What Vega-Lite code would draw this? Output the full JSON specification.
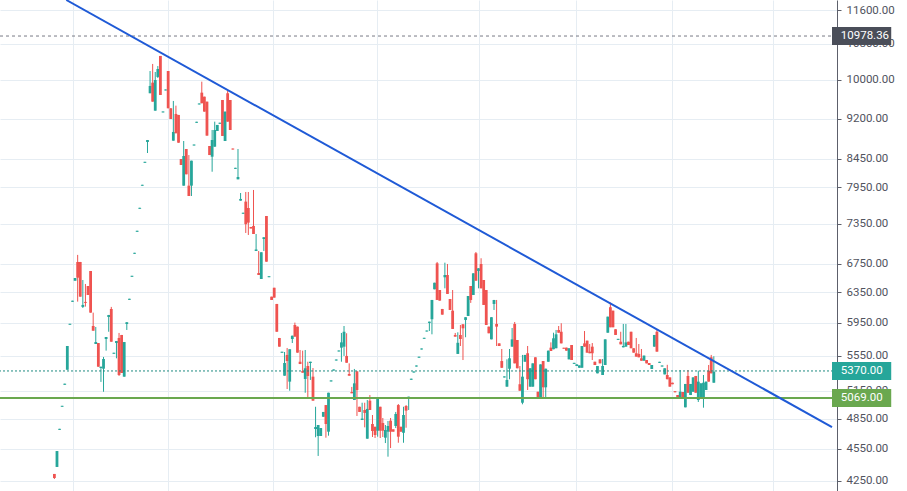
{
"$schema": "https://vega.github.io/schema/vega-lite/v6.json",
"width": 837, "height": 491,
"autosize": {"type": "none"},
"padding": {"left": 0, "top": 0, "right": 70, "bottom": 0},
"background": "white",
"config": {"view": {"stroke": null}},
"datasets": {"candles": [
{"i":0,"o":4310,"c":4273,"h":4310,"l":4264},{"i":1,"o":4375,"c":4526,"h":4526,"l":4375},{"i":2,"o":4736,"c":4746,"h":4746,"l":4736},{"i":3,"o":4975,"c":4985,"h":4985,"l":4975},{"i":4,"o":5214,"c":5226,"h":5226,"l":5214},{"i":5,"o":5384,"c":5664,"h":5664,"l":5384},{"i":6,"o":5927,"c":5939,"h":5939,"l":5927},{"i":7,"o":6225,"c":6239,"h":6239,"l":6225},{"i":8,"o":6511,"c":6549,"h":6549,"l":6511},{"i":9,"o":6777,"c":6553,"h":6880,"l":6227},
{"i":10,"o":6777,"c":6293,"h":6777,"l":6293},{"i":11,"o":6157,"c":6183,"h":6521,"l":6143},{"i":12,"o":6223,"c":6210,"h":6466,"l":6161},{"i":13,"o":6438,"c":6316,"h":6438,"l":6316},{"i":14,"o":6648,"c":6082,"h":6648,"l":6082},{"i":15,"o":5911,"c":5852,"h":6082,"l":5852},{"i":16,"o":5688,"c":5712,"h":5899,"l":5688},{"i":17,"o":5700,"c":5419,"h":5700,"l":5419},{"i":18,"o":5404,"c":5419,"h":5419,"l":5246},{"i":19,"o":5396,"c":5509,"h":5533,"l":5137},
{"i":20,"o":5749,"c":5774,"h":5774,"l":5608},{"i":21,"o":6026,"c":6052,"h":6052,"l":5839},{"i":22,"o":6130,"c":5716,"h":6157,"l":5716},{"i":23,"o":5571,"c":5583,"h":5583,"l":5571},{"i":24,"o":5700,"c":5725,"h":5725,"l":5517},{"i":25,"o":5762,"c":5324,"h":5824,"l":5313},{"i":26,"o":5799,"c":5347,"h":5799,"l":5347},{"i":27,"o":5305,"c":5712,"h":5712,"l":5305},{"i":28,"o":5937,"c":5959,"h":5959,"l":5861},{"i":29,"o":6251,"c":6265,"h":6265,"l":6251},
{"i":30,"o":6566,"c":6580,"h":6580,"l":6566},{"i":31,"o":6897,"c":6911,"h":6911,"l":6897},{"i":32,"o":7228,"c":7244,"h":7244,"l":7228},{"i":33,"o":7592,"c":7608,"h":7608,"l":7592},{"i":34,"o":7975,"c":7991,"h":7991,"l":7975},{"i":35,"o":8375,"c":8393,"h":8393,"l":8375},{"i":36,"o":8755,"c":8793,"h":8793,"l":8552},{"i":37,"o":9716,"c":9868,"h":10188,"l":9716},{"i":38,"o":9938,"c":9543,"h":10343,"l":9543},{"i":39,"o":9361,"c":9995,"h":10167,"l":9361},
{"i":40,"o":10060,"c":10232,"h":10297,"l":10038},{"i":41,"o":10521,"c":9680,"h":10521,"l":9680},{"i":42,"o":9326,"c":9345,"h":9345,"l":9326},{"i":43,"o":9774,"c":9794,"h":9794,"l":9774},{"i":44,"o":10188,"c":9409,"h":10188,"l":9409},{"i":45,"o":9409,"c":9196,"h":9409,"l":9196},{"i":46,"o":8780,"c":8945,"h":9557,"l":8780},{"i":47,"o":9296,"c":8920,"h":9462,"l":8920},{"i":48,"o":9276,"c":8742,"h":9276,"l":8742},{"i":49,"o":8443,"c":8336,"h":8443,"l":8336},
{"i":50,"o":7976,"c":8497,"h":8774,"l":7976},{"i":51,"o":8625,"c":8172,"h":8625,"l":8172},{"i":52,"o":7976,"c":7802,"h":8515,"l":7802},{"i":53,"o":7976,"c":8413,"h":8413,"l":7802},{"i":54,"o":8690,"c":8708,"h":8708,"l":8690},{"i":55,"o":9122,"c":9142,"h":9142,"l":9122},{"i":56,"o":9486,"c":9506,"h":9506,"l":9486},{"i":57,"o":9728,"c":9510,"h":9959,"l":9510},{"i":58,"o":9645,"c":9342,"h":9645,"l":9342},{"i":59,"o":9543,"c":8875,"h":9543,"l":8875},
{"i":60,"o":8681,"c":8515,"h":8681,"l":8515},{"i":61,"o":8485,"c":8793,"h":8983,"l":8217},{"i":62,"o":8668,"c":8983,"h":9144,"l":8668},{"i":63,"o":8964,"c":9080,"h":9080,"l":8964},{"i":64,"o":9103,"c":9123,"h":9123,"l":9103},{"i":65,"o":9577,"c":8869,"h":9577,"l":8869},{"i":66,"o":8774,"c":9342,"h":9342,"l":8774},{"i":67,"o":9716,"c":9144,"h":9763,"l":9144},{"i":68,"o":9577,"c":8983,"h":9577,"l":8983},{"i":69,"o":8634,"c":8616,"h":8634,"l":8616},
{"i":70,"o":8268,"c":8286,"h":8286,"l":8268},{"i":71,"o":8085,"c":8125,"h":8625,"l":8085},{"i":72,"o":7725,"c":7753,"h":7852,"l":7725},{"i":73,"o":7512,"c":7528,"h":7528,"l":7512},{"i":74,"o":7709,"c":7346,"h":7869,"l":7210},{"i":75,"o":7605,"c":7371,"h":7869,"l":7179},{"i":76,"o":7303,"c":7279,"h":7303,"l":7279},{"i":77,"o":7319,"c":7194,"h":7903,"l":7194},{"i":78,"o":6938,"c":6960,"h":7194,"l":6938},{"i":79,"o":6619,"c":6591,"h":6938,"l":6591},
{"i":80,"o":6535,"c":6919,"h":6919,"l":6535},{"i":81,"o":7118,"c":7144,"h":7144,"l":6938},{"i":82,"o":7476,"c":6781,"h":7476,"l":6781},{"i":83,"o":6560,"c":6574,"h":6574,"l":6560},{"i":84,"o":6293,"c":6249,"h":6293,"l":6249},{"i":85,"o":6414,"c":6280,"h":6414,"l":6280},{"i":86,"o":6196,"c":5839,"h":6196,"l":5839},{"i":87,"o":5762,"c":5656,"h":5762,"l":5656},{"i":88,"o":5583,"c":5595,"h":5595,"l":5583},{"i":89,"o":5316,"c":5462,"h":5592,"l":5316},
{"i":90,"o":5557,"c":5485,"h":5640,"l":5167},{"i":91,"o":5249,"c":5625,"h":5625,"l":5148},{"i":92,"o":5749,"c":5790,"h":5790,"l":5700},{"i":93,"o":5924,"c":5778,"h":5954,"l":5778},{"i":94,"o":5903,"c":5584,"h":5903,"l":5584},{"i":95,"o":5477,"c":5450,"h":5616,"l":5450},{"i":96,"o":5369,"c":5350,"h":5608,"l":5350},{"i":97,"o":5279,"c":5401,"h":5616,"l":5126},{"i":98,"o":5427,"c":5313,"h":5477,"l":5069},{"i":99,"o":5462,"c":5477,"h":5477,"l":5268},
{"i":100,"o":5305,"c":5040,"h":5404,"l":5040},{"i":101,"o":4744,"c":4764,"h":4975,"l":4661},{"i":102,"o":4674,"c":4785,"h":4785,"l":4479},{"i":103,"o":4674,"c":4754,"h":4754,"l":4674},{"i":104,"o":4870,"c":4920,"h":4920,"l":4870},{"i":105,"o":4993,"c":4795,"h":4993,"l":4657},{"i":106,"o":4717,"c":5126,"h":5126,"l":4677},{"i":107,"o":5251,"c":5263,"h":5263,"l":5251},{"i":108,"o":5375,"c":5387,"h":5387,"l":5375},{"i":109,"o":5491,"c":5503,"h":5503,"l":5491},
{"i":110,"o":5598,"c":5610,"h":5610,"l":5598},{"i":111,"o":5644,"c":5708,"h":5824,"l":5477},{"i":112,"o":5656,"c":5839,"h":5911,"l":5545},{"i":113,"o":5545,"c":5465,"h":5820,"l":5465},{"i":114,"o":5335,"c":5316,"h":5458,"l":5316},{"i":115,"o":5134,"c":5120,"h":5190,"l":5120},{"i":116,"o":5047,"c":5230,"h":5393,"l":5047},{"i":117,"o":5366,"c":5156,"h":5366,"l":4878},{"i":118,"o":4975,"c":4920,"h":4975,"l":4920},{"i":119,"o":4836,"c":4851,"h":5018,"l":4836},
{"i":120,"o":4941,"c":4910,"h":5018,"l":4761},{"i":121,"o":4647,"c":4952,"h":5047,"l":4647},{"i":122,"o":5040,"c":4941,"h":5101,"l":4941},{"i":123,"o":4795,"c":4724,"h":4888,"l":4664},{"i":124,"o":4767,"c":4684,"h":4767,"l":4654},{"i":125,"o":4727,"c":5061,"h":5061,"l":4667},{"i":126,"o":4975,"c":4727,"h":4975,"l":4654},{"i":127,"o":4805,"c":4727,"h":4857,"l":4664},{"i":128,"o":4657,"c":4734,"h":4785,"l":4604},{"i":129,"o":4717,"c":4775,"h":4826,"l":4472},
{"i":130,"o":4829,"c":4717,"h":4857,"l":4555},{"i":131,"o":4741,"c":4717,"h":4741,"l":4717},{"i":132,"o":4775,"c":4899,"h":4920,"l":4754},{"i":133,"o":4993,"c":4667,"h":5004,"l":4607},{"i":134,"o":4767,"c":4717,"h":4767,"l":4717},{"i":135,"o":4706,"c":4888,"h":4975,"l":4607},{"i":136,"o":4983,"c":4934,"h":4993,"l":4757},{"i":137,"o":5069,"c":5083,"h":5083,"l":4941},{"i":138,"o":5270,"c":5282,"h":5282,"l":5270},{"i":139,"o":5352,"c":5364,"h":5364,"l":5352},
{"i":140,"o":5421,"c":5433,"h":5433,"l":5421},{"i":141,"o":5524,"c":5536,"h":5536,"l":5524},{"i":142,"o":5622,"c":5634,"h":5634,"l":5622},{"i":143,"o":5752,"c":5764,"h":5764,"l":5752},{"i":144,"o":5842,"c":5854,"h":5854,"l":5842},{"i":145,"o":5950,"c":5966,"h":5966,"l":5848},{"i":146,"o":5997,"c":6249,"h":6249,"l":5807},{"i":147,"o":6393,"c":6483,"h":6483,"l":6393},{"i":148,"o":6758,"c":6249,"h":6777,"l":6249},{"i":149,"o":6383,"c":6240,"h":6383,"l":6240},
{"i":150,"o":6130,"c":6056,"h":6130,"l":6056},{"i":151,"o":6559,"c":6591,"h":6767,"l":6406},{"i":152,"o":6591,"c":6330,"h":6748,"l":6330},{"i":153,"o":6262,"c":6117,"h":6262,"l":6117},{"i":154,"o":6108,"c":5874,"h":6383,"l":5874},{"i":155,"o":5799,"c":5778,"h":5824,"l":5778},{"i":156,"o":5569,"c":5703,"h":5832,"l":5569},{"i":157,"o":5799,"c":5749,"h":5924,"l":5664},{"i":158,"o":5933,"c":5882,"h":5933,"l":5497},{"i":159,"o":5988,"c":6023,"h":6023,"l":5771},
{"i":160,"o":6039,"c":6302,"h":6302,"l":6039},{"i":161,"o":6438,"c":6249,"h":6438,"l":6210},{"i":162,"o":6316,"c":6615,"h":6615,"l":6316},{"i":163,"o":6904,"c":6511,"h":6923,"l":6511},{"i":164,"o":6648,"c":6686,"h":6686,"l":6406},{"i":165,"o":6748,"c":6406,"h":6831,"l":6406},{"i":166,"o":6521,"c":6183,"h":6521,"l":6183},{"i":167,"o":6383,"c":5924,"h":6383,"l":5924},{"i":168,"o":5903,"c":5820,"h":5903,"l":5820},{"i":169,"o":5745,"c":6023,"h":6023,"l":5745},
{"i":170,"o":6196,"c":6249,"h":6249,"l":6117},{"i":171,"o":5937,"c":5903,"h":6249,"l":5664},{"i":172,"o":5696,"c":5664,"h":5696,"l":5664},{"i":173,"o":5485,"c":5407,"h":5628,"l":5404},{"i":174,"o":5296,"c":5308,"h":5308,"l":5296},{"i":175,"o":5193,"c":5268,"h":5505,"l":5193},{"i":176,"o":5396,"c":5517,"h":5628,"l":5276},{"i":177,"o":5656,"c":5745,"h":5886,"l":5656},{"i":178,"o":5937,"c":5458,"h":5962,"l":5458},{"i":179,"o":5737,"c":5401,"h":5737,"l":5401},
{"i":180,"o":5220,"c":5148,"h":5427,"l":5148},{"i":181,"o":5018,"c":5305,"h":5557,"l":5001},{"i":182,"o":5477,"c":5557,"h":5557,"l":5477},{"i":183,"o":5577,"c":5276,"h":5664,"l":5156},{"i":184,"o":5193,"c":5401,"h":5401,"l":5193},{"i":185,"o":5193,"c":5458,"h":5458,"l":5193},{"i":186,"o":5529,"c":5276,"h":5529,"l":5276},{"i":187,"o":5137,"c":5077,"h":5137,"l":5077},{"i":188,"o":5072,"c":5446,"h":5446,"l":5069},{"i":189,"o":5485,"c":5186,"h":5485,"l":5066},
{"i":190,"o":5186,"c":5396,"h":5396,"l":5069},{"i":191,"o":5477,"c":5608,"h":5608,"l":5477},{"i":192,"o":5644,"c":5604,"h":5708,"l":5604},{"i":193,"o":5625,"c":5758,"h":5827,"l":5625},{"i":194,"o":5637,"c":5807,"h":5861,"l":5637},{"i":195,"o":5861,"c":5827,"h":5911,"l":5827},{"i":196,"o":5839,"c":5696,"h":5946,"l":5696},{"i":197,"o":5643,"c":5631,"h":5643,"l":5631},{"i":198,"o":5644,"c":5608,"h":5644,"l":5608},{"i":199,"o":5505,"c":5637,"h":5637,"l":5505},
{"i":200,"o":5676,"c":5497,"h":5676,"l":5497},{"i":201,"o":5452,"c":5464,"h":5464,"l":5452},{"i":202,"o":5427,"c":5446,"h":5446,"l":5427},{"i":203,"o":5407,"c":5434,"h":5434,"l":5407},{"i":204,"o":5407,"c":5664,"h":5664,"l":5407},{"i":205,"o":5696,"c":5656,"h":5848,"l":5656},{"i":206,"o":5729,"c":5584,"h":5729,"l":5584},{"i":207,"o":5596,"c":5577,"h":5688,"l":5577},{"i":208,"o":5656,"c":5577,"h":5700,"l":5497},{"i":209,"o":5477,"c":5439,"h":5477,"l":5439},
{"i":210,"o":5343,"c":5427,"h":5427,"l":5343},{"i":211,"o":5505,"c":5458,"h":5505,"l":5458},{"i":212,"o":5324,"c":5427,"h":5509,"l":5324},{"i":213,"o":5439,"c":5745,"h":5745,"l":5439},{"i":214,"o":5827,"c":6030,"h":6030,"l":5827},{"i":215,"o":6153,"c":5895,"h":6214,"l":5895},{"i":216,"o":6108,"c":5895,"h":6108,"l":5895},{"i":217,"o":5870,"c":5799,"h":5870,"l":5799},{"i":218,"o":5739,"c":5751,"h":5751,"l":5739},{"i":219,"o":5716,"c":5684,"h":5839,"l":5684},
{"i":220,"o":5648,"c":5664,"h":5937,"l":5648},{"i":221,"o":5656,"c":5708,"h":5937,"l":5656},{"i":222,"o":5716,"c":5676,"h":5716,"l":5676},{"i":223,"o":5839,"c":5637,"h":5839,"l":5637},{"i":224,"o":5637,"c":5584,"h":5637,"l":5584},{"i":225,"o":5577,"c":5537,"h":5762,"l":5537},{"i":226,"o":5569,"c":5529,"h":5688,"l":5529},{"i":227,"o":5517,"c":5489,"h":5628,"l":5489},{"i":228,"o":5489,"c":5549,"h":5549,"l":5489},{"i":229,"o":5497,"c":5458,"h":5497,"l":5458},
{"i":230,"o":5462,"c":5439,"h":5462,"l":5439},{"i":231,"o":5393,"c":5439,"h":5439,"l":5393},{"i":232,"o":5656,"c":5799,"h":5799,"l":5656},{"i":233,"o":5839,"c":5596,"h":5874,"l":5596},{"i":234,"o":5464,"c":5476,"h":5476,"l":5464},{"i":235,"o":5421,"c":5433,"h":5433,"l":5421},{"i":236,"o":5331,"c":5401,"h":5401,"l":5331},{"i":237,"o":5324,"c":5276,"h":5441,"l":5276},{"i":238,"o":5297,"c":5193,"h":5297,"l":5193},{"i":239,"o":5237,"c":5220,"h":5237,"l":5220},
{"i":240,"o":5143,"c":5131,"h":5143,"l":5131},{"i":241,"o":5101,"c":5072,"h":5101,"l":5072},{"i":242,"o":5066,"c":5137,"h":5381,"l":5066},{"i":243,"o":5134,"c":5069,"h":5134,"l":5069},{"i":244,"o":4969,"c":5223,"h":5223,"l":4969},{"i":245,"o":5313,"c":5126,"h":5381,"l":5126},{"i":246,"o":5101,"c":5223,"h":5223,"l":5101},{"i":247,"o":5137,"c":5297,"h":5297,"l":5137},{"i":248,"o":5313,"c":5126,"h":5313,"l":5126},{"i":249,"o":5047,"c":5249,"h":5373,"l":5026},
{"i":250,"o":5066,"c":5230,"h":5230,"l":5066},{"i":251,"o":5066,"c":5237,"h":5324,"l":4965},{"i":252,"o":5156,"c":5249,"h":5249,"l":5156},{"i":253,"o":5373,"c":5249,"h":5439,"l":5249},{"i":254,"o":5529,"c":5343,"h":5557,"l":5343},{"i":255,"o":5237,"c":5362,"h":5541,"l":5237}
]},
"layer": [
{
"data": {"name": "candles"},
"mark": {"type": "rule", "strokeWidth": 1},
"encoding": {
"x": {"field": "i", "type": "quantitative",
"scale": {"domain": [-19.1, 300.7], "nice": false, "zero": false},
"axis": {"values": [7.3, 43.9, 84.4, 124.9, 164.3, 201.8, 238.8, 277.8], "labels": false, "ticks": false, "domain": false, "title": null, "grid": true, "gridColor": "#e6edf3", "gridWidth": 1}},
"y": {"field": "l", "type": "quantitative",
"scale": {"type": "log", "domain": [4156, 11856], "nice": false, "zero": false},
"axis": {"orient": "right", "values": [4250, 4550, 4850, 5150, 5550, 5950, 6350, 6750, 7350, 7950, 8450, 9200, 10000, 10800, 11600], "format": ".2f", "title": null, "grid": true, "gridColor": "#e6edf3", "tickSize": 4, "tickColor": "#5d606b", "domainColor": "#5d606b", "labelColor": "#50535e", "labelFont": "Roboto", "labelFontSize": 11.5, "labelPadding": 5, "labelOverlap": false}},
"y2": {"field": "h"},
"color": {"condition": {"test": "datum.c >= datum.o", "value": "#26a69a"}, "value": "#ef5350"}
}
},
{
"data": {"name": "candles"},
"mark": {"type": "bar", "size": 2.8},
"encoding": {
"x": {"field": "i", "type": "quantitative"},
"y": {"field": "o", "type": "quantitative"},
"y2": {"field": "c"},
"color": {"condition": {"test": "datum.c >= datum.o", "value": "#26a69a"}, "value": "#ef5350"}
}
},
{
"data": {"values": [{"p": 10978.36}]},
"mark": {"type": "rule", "color": "#787b86", "strokeDash": [3, 3], "strokeWidth": 1},
"encoding": {"y": {"field": "p", "type": "quantitative"}}
},
{
"data": {"values": [{"p": 5370}]},
"mark": {"type": "rule", "color": "#1f8a80", "strokeDash": [2, 2], "strokeWidth": 1},
"encoding": {"y": {"field": "p", "type": "quantitative"}}
},
{
"data": {"values": [{"p": 5069}]},
"mark": {"type": "rule", "color": "#6aa84f", "strokeWidth": 2},
"encoding": {"y": {"field": "p", "type": "quantitative"}}
},
{
"data": {"values": [{"i": 4.6, "p": 11856}, {"i": 300.7, "p": 4764}]},
"mark": {"type": "line", "color": "#1f5ad6", "strokeWidth": 2, "clip": true},
"encoding": {"x": {"field": "i", "type": "quantitative"}, "y": {"field": "p", "type": "quantitative"}}
},
{
"data": {"values": [{"k": 1}]},
"mark": {"type": "rect", "color": "#4a4e59", "clip": false},
"encoding": {"x": {"datum": 300.7}, "x2": {"datum": 323.6}, "y": {"datum": 11191}, "y2": {"datum": 10770}}
},
{
"data": {"values": [{"k": 1}]},
"mark": {"type": "rect", "color": "#26a69a", "clip": false},
"encoding": {"x": {"datum": 300.7}, "x2": {"datum": 323.6}, "y": {"datum": 5473}, "y2": {"datum": 5268}}
},
{
"data": {"values": [{"k": 1}]},
"mark": {"type": "rect", "color": "#6aa84f", "clip": false},
"encoding": {"x": {"datum": 300.7}, "x2": {"datum": 323.6}, "y": {"datum": 5167}, "y2": {"datum": 4972}}
},
{
"data": {"values": [{"lab": "10978.36", "p": 10978.36}, {"lab": "5370.00", "p": 5370}, {"lab": "5069.00", "p": 5069}]},
"mark": {"type": "text", "align": "left", "baseline": "middle", "color": "white", "font": "Roboto", "fontSize": 11.5, "clip": false},
"encoding": {"x": {"datum": 304.1}, "y": {"field": "p", "type": "quantitative"}, "text": {"field": "lab"}}
}
]
}
